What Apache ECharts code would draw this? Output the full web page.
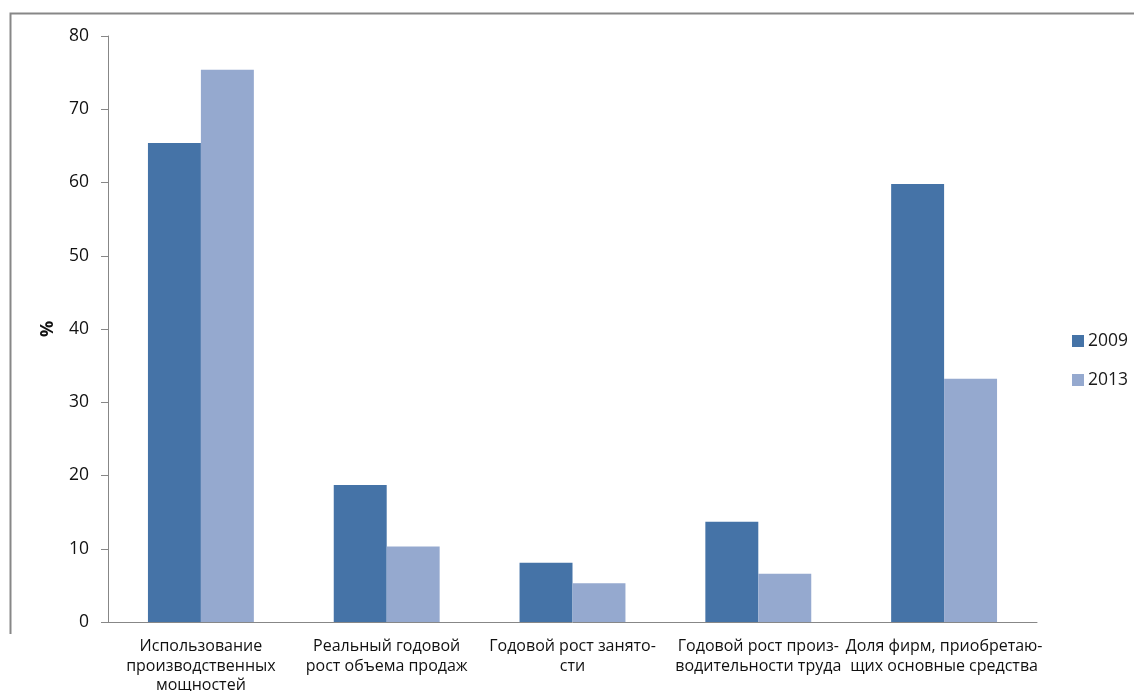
<!DOCTYPE html>
<html>
<head>
<meta charset="utf-8">
<script src="https://cdn.jsdelivr.net/npm/echarts@6/dist/echarts.min.js"></script>
<style>
html,body{margin:0;padding:0;background:#fff;}
#chart{width:1134px;height:691px;}
</style>
</head>
<body>
<div id="chart"></div>
<script>
const categories = [
  "Использование\nпроизводственных\nмощностей",
  "Реальный годовой\nрост объема продаж",
  "Годовой рост занято-\nсти",
  "Годовой рост произ-\nводительности труда",
  "Доля фирм, приобретаю-\nщих основные средства"
];
const values2009 = [65.4, 18.7, 8.1, 13.7, 59.8];
const values2013 = [75.4, 10.3, 5.3, 6.6, 33.2];
const seriesNames = ["2009", "2013"];
const yAxisName = "%";

const FONT = "Open Sans";
const chart = echarts.init(document.getElementById('chart'), null, {renderer: 'canvas'});
chart.setOption({
  animation: false,
  backgroundColor: '#ffffff',
  textStyle: {fontFamily: FONT},
  graphic: [{
    type: 'polyline',
    shape: {points: [[10.5, 634], [10.5, 13.5], [1134, 13.5]]},
    style: {stroke: '#878787', lineWidth: 2, fill: null},
    silent: true
  }],
  grid: {left: 108, right: 97, top: 36, bottom: 69, containLabel: false, outerBoundsMode: 'none'},
  legend: {
    orient: 'vertical',
    left: 1067,
    top: 327,
    itemWidth: 12,
    itemHeight: 12,
    itemGap: 21,
    icon: 'rect',
    textStyle: {fontFamily: FONT, fontSize: 17.5, color: '#1a1a1a', padding: [0, 0, 0, -1]},
    data: seriesNames
  },
  xAxis: {
    type: 'category',
    data: categories,
    axisLine: {lineStyle: {color: '#878787', width: 1}},
    axisTick: {show: false},
    axisLabel: {
      interval: 0,
      margin: 15,
      fontFamily: FONT,
      fontSize: 16,
      lineHeight: 19.5,
      color: '#111'
    }
  },
  yAxis: {
    type: 'value',
    min: 0,
    max: 80,
    interval: 10,
    name: yAxisName,
    nameLocation: 'middle',
    nameRotate: 90,
    nameGap: 51,
    nameTextStyle: {fontFamily: FONT, fontSize: 18, fontWeight: 'bold', color: '#111'},
    axisLine: {show: true, lineStyle: {color: '#878787', width: 1}},
    axisTick: {show: true, length: 7, lineStyle: {color: '#878787'}},
    splitLine: {show: false},
    axisLabel: {margin: 19, fontFamily: FONT, fontSize: 17.5, color: '#111'}
  },
  series: [
    {name: seriesNames[0], type: 'bar', data: values2009, barGap: '0%', barCategoryGap: '43%',
     itemStyle: {color: '#4573A7'}},
    {name: seriesNames[1], type: 'bar', data: values2013, barGap: '0%', barCategoryGap: '43%',
     itemStyle: {color: '#95A9CF'}}
  ]
});
</script>
</body>
</html>
